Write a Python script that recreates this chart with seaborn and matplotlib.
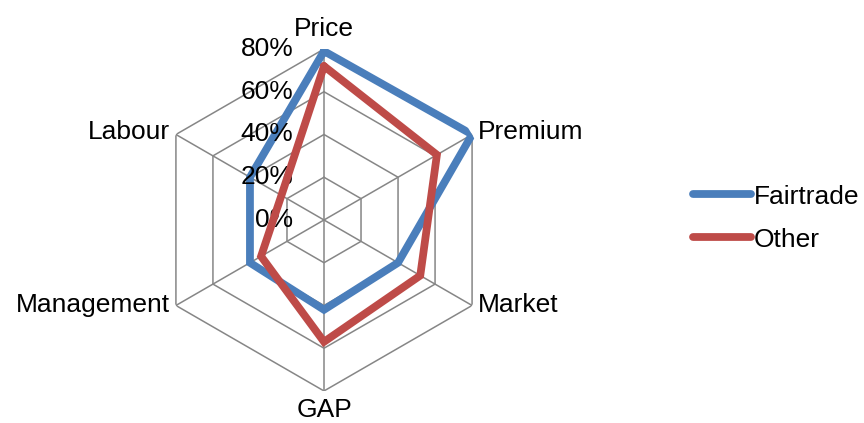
import numpy as np
import matplotlib
matplotlib.use("Agg")
import matplotlib.pyplot as plt
import seaborn as sns

CATEGORIES = ["Price", "Premium", "Market", "GAP", "Management", "Labour"]
FAIRTRADE = [0.79, 0.80, 0.40, 0.42, 0.40, 0.40]
OTHER = [0.72, 0.61, 0.52, 0.57, 0.34, 0.23]
RINGS = [0.0, 0.2, 0.4, 0.6, 0.8]
RING_LABELS = ["0%", "20%", "40%", "60%", "80%"]

BLUE = "#4A7EBB"
RED = "#BE4B48"
GRID = "#868686"
FONT = 19


def closed(values):
    return list(values) + [values[0]]


def make_radar():
    sns.set_style("white")
    plt.rcParams["font.family"] = ["Liberation Sans", "DejaVu Sans"]
    plt.rcParams["text.color"] = "black"

    fig = plt.figure(figsize=(8.64, 4.23), dpi=100)
    ax = fig.add_axes([0.1771, 0.0757, 0.3958, 0.8085], projection="polar")
    ax.set_theta_zero_location("N")
    ax.set_theta_direction(-1)

    theta = np.linspace(0, 2 * np.pi, len(CATEGORIES), endpoint=False)
    theta_c = list(theta) + [2 * np.pi]

    # hexagonal grid and spokes
    for r in RINGS[1:]:
        ax.plot(theta_c, [r] * len(theta_c), color=GRID, lw=1.1, zorder=1)
    for t in theta:
        ax.plot([t, t], [0, RINGS[-1]], color=GRID, lw=1.1, zorder=1)

    sns.lineplot(x=theta_c, y=closed(FAIRTRADE), sort=False, estimator=None,
                 ax=ax, color=BLUE, lw=5.6, label="Fairtrade",
                 solid_capstyle="round", solid_joinstyle="miter", zorder=3)
    sns.lineplot(x=theta_c, y=closed(OTHER), sort=False, estimator=None,
                 ax=ax, color=RED, lw=5.6, label="Other",
                 solid_capstyle="round", solid_joinstyle="miter", zorder=4)

    ax.set_ylim(0, RINGS[-1])
    ax.grid(False)
    ax.spines["polar"].set_visible(False)
    ax.set_xticks([])
    ax.set_yticks([])
    ax.set_xlabel("")
    ax.set_ylabel("")

    # category labels
    offsets = {
        "Price": ((0, 6), "center", "bottom"),
        "Premium": ((4, 2), "left", "center"),
        "Market": ((4, 0), "left", "center"),
        "GAP": ((0, -5), "center", "top"),
        "Management": ((-4, 0), "right", "center"),
        "Labour": ((-4, 2), "right", "center"),
    }
    for t, name in zip(theta, CATEGORIES):
        off, ha, va = offsets[name]
        ax.annotate(name, xy=(t, RINGS[-1]), xytext=off,
                    textcoords="offset points", ha=ha, va=va,
                    fontsize=FONT, color="black")

    # value labels along the Price axis
    for r, lab in zip(RINGS, RING_LABELS):
        ax.annotate(lab, xy=(0, r), xytext=(-22, 0),
                    textcoords="offset points", ha="right", va="center",
                    fontsize=FONT, color="black")

    handles, labels = ax.get_legend_handles_labels()
    if ax.get_legend() is not None:
        ax.get_legend().remove()
    fig.legend(handles, labels, loc="center left",
               bbox_to_anchor=(0.802, 0.4846), frameon=False,
               fontsize=FONT, handlelength=2.2, handletextpad=0.1,
               labelspacing=0.72, borderpad=0, borderaxespad=0,
               labelcolor="black")

    fig.savefig("out.png", dpi=100)
    plt.close(fig)


def main():
    make_radar()


if __name__ == "__main__":
    main()
